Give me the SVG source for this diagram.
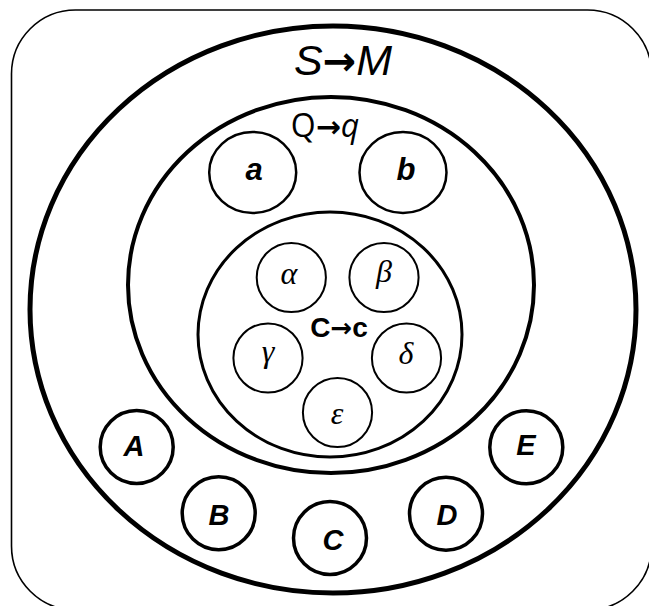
<svg xmlns="http://www.w3.org/2000/svg" width="649" height="606" viewBox="0 0 649 606">
<style>
.sh{fill:none;stroke:#000}
.lbl{font-family:"Liberation Sans",Arial,sans-serif;font-style:italic;font-weight:bold;text-anchor:middle;fill:#000}
.gk{font-family:"Liberation Serif","Times New Roman",serif;font-style:italic;text-anchor:middle;fill:#000;font-size:32px}
.ar{font-family:"DejaVu Sans",sans-serif;font-weight:bold;font-style:normal}
</style>
<rect width="649" height="606" fill="#fff"/>
<g id="frame"><rect class="sh" x="11.5" y="10" width="640" height="600" rx="64" stroke-width="1.6"/></g>
<g id="S">
<ellipse class="sh" cx="333" cy="309.5" rx="303" ry="283.5" stroke-width="5"/>
<text x="343" y="75" font-family="Liberation Sans,Arial,sans-serif" font-style="italic" font-size="43" text-anchor="middle">S<tspan class="ar" font-size="40">→</tspan>M</text>
</g>
<g id="Q">
<ellipse class="sh" cx="331" cy="285" rx="203" ry="188" stroke-width="4"/>
<text x="325" y="137" font-family="Open Sans,sans-serif" font-size="32" text-anchor="middle">Q<tspan class="ar" font-size="30">→</tspan><tspan font-style="italic">q</tspan></text>
</g>
<g id="a"><ellipse class="sh" cx="252.7" cy="172.5" rx="43.5" ry="40.5" stroke-width="2.5"/><text class="lbl" x="254" y="180" font-size="31">a</text></g>
<g id="b"><ellipse class="sh" cx="403" cy="172.5" rx="43.5" ry="40.5" stroke-width="2.5"/><text class="lbl" x="406" y="180" font-size="31">b</text></g>
<g id="C">
<ellipse class="sh" cx="330" cy="334.5" rx="132" ry="122.5" stroke-width="3"/>
<text x="339" y="337" font-family="Liberation Sans,Arial,sans-serif" font-weight="bold" font-size="28" text-anchor="middle">C<tspan class="ar" font-size="26">→</tspan>c</text>
</g>
<g id="alpha"><circle class="sh" cx="291.3" cy="277.5" r="34.6" stroke-width="2"/><text class="gk" x="289" y="284">α</text></g>
<g id="beta"><circle class="sh" cx="384" cy="277.5" r="34.6" stroke-width="2"/><text class="gk" x="384" y="282">β</text></g>
<g id="gamma"><circle class="sh" cx="268" cy="358" r="34.6" stroke-width="2"/><text class="gk" x="268" y="362">γ</text></g>
<g id="delta"><circle class="sh" cx="406.5" cy="358" r="34.6" stroke-width="2"/><text class="gk" x="406" y="364">δ</text></g>
<g id="epsilon"><circle class="sh" cx="337.5" cy="412.5" r="34.6" stroke-width="2"/><text class="gk" x="337" y="424">ε</text></g>
<g id="nA"><circle class="sh" cx="136.7" cy="447" r="36.5" stroke-width="3.5"/><text class="lbl" x="134" y="456" font-size="29">A</text></g>
<g id="nB"><circle class="sh" cx="218.7" cy="513.3" r="36.5" stroke-width="3.5"/><text class="lbl" x="219" y="525" font-size="29">B</text></g>
<g id="nC"><circle class="sh" cx="330" cy="538" r="36.5" stroke-width="3.5"/><text class="lbl" x="333" y="550" font-size="29">C</text></g>
<g id="nD"><circle class="sh" cx="446" cy="513.7" r="36.5" stroke-width="3.5"/><text class="lbl" x="447" y="525" font-size="29">D</text></g>
<g id="nE"><circle class="sh" cx="526.3" cy="447.3" r="36.5" stroke-width="3.5"/><text class="lbl" x="526" y="455" font-size="29">E</text></g>
</svg>
